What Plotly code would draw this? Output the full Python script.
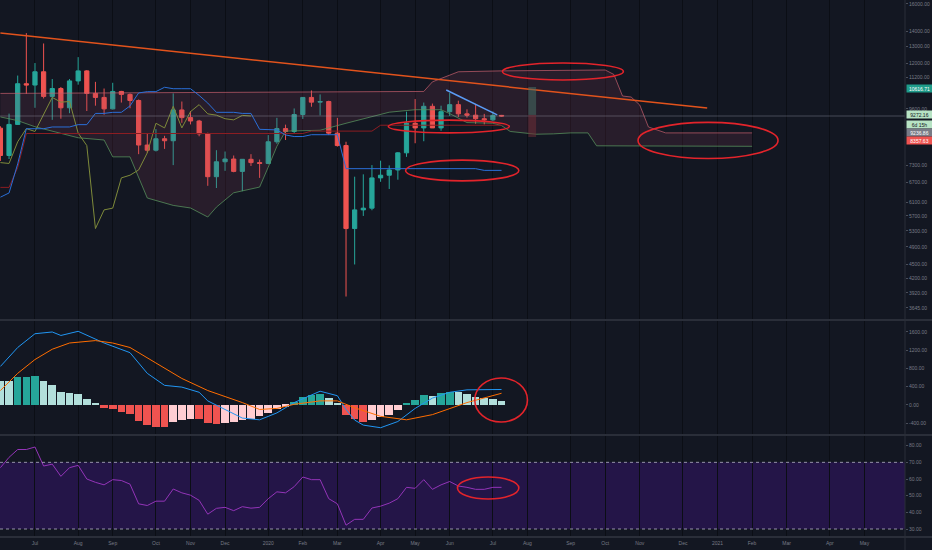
import math

import pandas as pd
import plotly.graph_objects as go

# BTCUSD weekly, Jun 2019 - Jul 2020
start = pd.Timestamp("2019-06-03")

open_ = [8740, 7650, 8900, 10850, 10780, 11500, 10200, 10600, 9650, 11000,
         11550, 10350, 10150, 9600, 10450, 10300, 10000, 8050, 7850, 8300,
         8220, 9550, 9200, 9050, 8500, 6900, 7420, 7520, 7080, 7510,
         7390, 7360, 8180, 8720, 8600, 9340, 10150, 9920, 9950, 8530,
         8030, 5360, 5870, 5920, 6860, 6950, 7130, 7750, 8950, 8750,
         9720, 8750, 9470, 9800, 9370, 9310, 9150, 9100, 9300]
high = [8820, 9380, 11290, 13880, 12000, 13200, 11100, 10680, 11100, 12350,
        11600, 10950, 10600, 10900, 10480, 10350, 10050, 8500, 8700, 8420,
        10350, 9950, 9500, 9100, 8550, 7850, 7800, 7650, 7520, 7700,
        7500, 8450, 9190, 8890, 9620, 10170, 10500, 10300, 9990, 9190,
        8180, 6900, 6980, 7300, 7460, 7290, 7780, 9470, 10070, 9900,
        9850, 9750, 10380, 9990, 9580, 9790, 9370, 9480, 9320]
low = [7450, 7520, 8880, 10330, 9650, 10100, 9100, 9150, 9400, 10800,
       9500, 9750, 9330, 9570, 9900, 9630, 7700, 7750, 7800, 7900,
       7300, 8970, 8900, 8400, 6600, 6530, 7100, 7050, 6430, 7270,
       6860, 7330, 8100, 8250, 8500, 9140, 9700, 9300, 8450, 7990,
       3850, 4500, 5700, 5860, 6730, 6500, 6800, 7600, 8120, 8200,
       8800, 8630, 9280, 9230, 9200, 8930, 8900, 9050, 9250]
close = [7650, 8900, 10850, 10780, 11500, 10200, 10600, 9650, 11000, 11550,
         10350, 10150, 9600, 10450, 10300, 10000, 8050, 7850, 8300, 8220,
         9550, 9200, 9050, 8500, 6900, 7420, 7520, 7080, 7510, 7390,
         7360, 8180, 8720, 8600, 9340, 10150, 9920, 9950, 8530, 8030,
         5360, 5870, 5920, 6860, 6950, 7130, 7750, 8950, 8750, 9720,
         8750, 9470, 9800, 9370, 9310, 9150, 9100, 9300, 9272.16]

# ichimoku lines (conversion / base per candle)
tenkan = [6245, 6375, 7345, 8715, 8715, 8715, 8790, 8790, 8790, 8890,
          8890, 9390, 9390, 9440, 9440, 9740, 10375, 10440, 10440, 10665,
          10590, 10590, 10590, 10250, 9875, 9440, 9440, 9440, 9390, 9390,
          8690, 8690, 8665, 8455, 8390, 8390, 8465, 8465, 8465, 8465,
          7175, 7175, 7175, 7175, 7175, 7175, 7175, 7175, 7175, 7175,
          7175, 7175, 7175, 7175, 7175, 7175, 7115, 7115, 7115]
kijun = [6550, 6550, 7220] + [8515] * 33 + [8615] * 8 + [8865] * 15
lag_shift = 29

# leading spans, by week number from the first candle
span_a_wk = [0, 2, 4, 6, 9, 12, 13, 15, 17, 20, 22, 24, 25, 27, 30, 31, 32, 33,
             37, 40, 45, 48, 51, 52, 53, 54, 57, 58, 59, 62, 64, 66, 68, 69, 87]
span_a = [9230, 9065, 8800, 8615, 8340, 8250, 7600, 7600, 6220, 6000, 5925,
          5670, 5950, 6380, 6560, 7230, 8000, 8615, 8650, 8950, 9445, 9560,
          9560, 9380, 9195, 8980, 8950, 8850, 8600, 8485, 8500, 8540, 8540,
          8020, 8000]
span_b_wk = [0, 49, 50, 53, 58, 70, 71, 72, 73, 74, 75, 77, 87]
span_b = [10350, 10450, 10950, 11500, 11550, 11600, 11350, 10220, 10170,
          9780, 8790, 8540, 8540]

# MACD
macd_hist = [527, 520, 617, 617, 640, 527, 444, 294, 256, 241,
             128, 38, -75, -98, -151, -188, -339, -437, -482, -485,
             -361, -324, -301, -310, -399, -421, -399, -361, -324, -301,
             -248, -173, -83, -38, 68, 181, 226, 241, 151, 53,
             -211, -301, -376, -324, -271, -211, -120, 30, 113, 226,
             203, 256, 294, 279, 241, 181, 151, 128, 90]
macd_wk = [0, 2, 4, 6, 7, 9, 12, 15, 17, 19, 21, 23, 24, 26, 28, 30, 32, 34,
           37, 39, 40, 41, 42, 44, 46, 48, 50, 52, 54, 58]
macd_line = [843, 1257, 1558, 1596, 1520, 1611, 1355, 1144, 692, 429, 391,
             278, 90, -98, -286, -324, -173, 53, 301, 203, -100, -330, -440,
             -497, -361, -75, 151, 278, 331, 339]
signal_wk = [0, 2, 4, 6, 8, 11, 13, 15, 18, 21, 24, 28, 30, 32, 34, 37, 39,
             41, 44, 47, 50, 52, 54, 58]
signal_line = [316, 692, 994, 1219, 1355, 1408, 1355, 1257, 918, 580, 316,
               53, -98, -75, 15, 90, 90, -60, -248, -324, -211, -75, 53, 256]

# RSI
rsi = [66.8, 73.0, 77.7, 77.7, 79.2, 67.8, 68.9, 61.6, 66.8, 68.2,
       60.0, 58.0, 56.5, 59.6, 59.1, 56.9, 45.1, 44.1, 46.7, 46.7,
       54.0, 51.7, 50.3, 47.2, 38.9, 42.4, 43.0, 41.0, 43.4, 42.5,
       43.0, 48.2, 52.3, 51.7, 55.4, 61.2, 59.6, 59.6, 48.2, 45.1,
       32.3, 35.8, 35.8, 42.6, 43.7, 45.5, 48.2, 55.0, 54.4, 59.6,
       53.8, 56.5, 58.5, 55.8, 55.0, 53.8, 53.8, 55.0, 55.0]

# user drawings (week number, price)
orange_wk = [0, 81.8]
orange_px = [13890, 9640]
blue_wk = [51.6, 57.5]
blue_px = [10525, 9320]
box_wk = [61.1, 62.0]
box_px = [8370, 9320, 10680]
rings_main = [(58.1, 72.1, 11050, 12000), (44.9, 58.9, 8540, 9090),
              (46.9, 60.0, 6760, 7480), (73.8, 90.0, 7540, 8990)]
ring_macd = (54.9, 61.0, -372, 590)
ring_rsi = (52.9, 60.0, 48.0, 61.2)

# axis ticks
price_ticks = [3645, 3920, 4200, 4500, 4900, 5300, 5700, 6100, 6700, 7300,
               9600, 11200, 12000, 13000, 14000, 16000]
macd_ticks = [-400, 0, 400, 800, 1200, 1600]
rsi_ticks = [30, 40, 50, 60, 70, 80]
month_ticks = ["2019-06-03", "2019-07-01", "2019-08-05", "2019-09-02",
               "2019-10-07", "2019-11-04", "2019-12-02", "2020-01-06",
               "2020-02-03", "2020-03-02", "2020-04-06", "2020-05-04",
               "2020-06-01", "2020-07-06", "2020-08-03", "2020-09-07",
               "2020-10-05", "2020-11-02", "2020-12-07", "2021-01-04",
               "2021-02-01", "2021-03-01", "2021-04-05", "2021-05-03"]
month_labels = ["Jun", "Jul", "Aug", "Sep", "Oct", "Nov", "Dec", "2020",
                "Feb", "Mar", "Apr", "May", "Jun", "Jul", "Aug", "Sep",
                "Oct", "Nov", "Dec", "2021", "Feb", "Mar", "Apr", "May"]


def wk(n):
    return start + pd.Timedelta(days=7 * n)


weeks = pd.date_range(start, periods=len(close), freq="7D")
BG = "#131722"
GRID = "#0b0e15"
TXT = "#787b86"
SEP = "#2a2e39"
RED = "#e3242b"

fig = go.Figure()

# cloud
fig.add_trace(go.Scatter(x=[wk(w) for w in span_a_wk], y=span_a, mode="lines",
                         line=dict(color="rgba(90,150,95,0.75)", width=1),
                         xaxis="x", yaxis="y", hoverinfo="skip"))
fig.add_trace(go.Scatter(x=[wk(w) for w in span_b_wk], y=span_b, mode="lines",
                         line=dict(color="rgba(200,95,110,0.7)", width=1),
                         fill="tonexty", fillcolor="rgba(150,60,90,0.17)",
                         xaxis="x", yaxis="y", hoverinfo="skip"))
# lagging span
n_lag = len(close) - lag_shift
fig.add_trace(go.Scatter(x=weeks[:n_lag], y=close[lag_shift:], mode="lines",
                         line=dict(color="#7e8a3a", width=1),
                         xaxis="x", yaxis="y", hoverinfo="skip"))
fig.add_trace(go.Scatter(x=weeks, y=kijun, mode="lines",
                         line=dict(color="#8c1d22", width=1),
                         xaxis="x", yaxis="y", hoverinfo="skip"))
fig.add_trace(go.Scatter(x=weeks, y=tenkan, mode="lines",
                         line=dict(color="#2a6fd8", width=1),
                         xaxis="x", yaxis="y", hoverinfo="skip"))

fig.add_trace(go.Candlestick(
    x=weeks, open=open_, high=high, low=low, close=close,
    increasing=dict(line=dict(color="#26a69a", width=1), fillcolor="#26a69a"),
    decreasing=dict(line=dict(color="#ef5350", width=1), fillcolor="#ef5350"),
    whiskerwidth=0, xaxis="x", yaxis="y"))

# trendlines
fig.add_trace(go.Scatter(x=[wk(w) for w in orange_wk], y=orange_px, mode="lines",
                         line=dict(color="#e2531c", width=1.5),
                         xaxis="x", yaxis="y", hoverinfo="skip"))
fig.add_trace(go.Scatter(x=[wk(w) for w in blue_wk], y=blue_px, mode="lines",
                         line=dict(color="#5b9cf6", width=1.5),
                         xaxis="x", yaxis="y", hoverinfo="skip"))

# MACD
hist_colors = []
for i, v in enumerate(macd_hist):
    prev = macd_hist[i - 1] if i > 0 else float("inf")
    if v >= 0:
        hist_colors.append("#26a69a" if v >= prev else "#b2dfdb")
    else:
        hist_colors.append("#ef5350" if v < prev else "#ffcdd2")
fig.add_trace(go.Bar(x=weeks, y=macd_hist, width=7 * 86400000 * 0.88,
                     marker=dict(color=hist_colors, line=dict(width=0)),
                     xaxis="x2", yaxis="y2", hoverinfo="skip"))
fig.add_trace(go.Scatter(x=[wk(w) for w in macd_wk], y=macd_line, mode="lines",
                         line=dict(color="#2196f3", width=1),
                         xaxis="x2", yaxis="y2", hoverinfo="skip"))
fig.add_trace(go.Scatter(x=[wk(w) for w in signal_wk], y=signal_line,
                         mode="lines", line=dict(color="#ff6d00", width=1),
                         xaxis="x2", yaxis="y2", hoverinfo="skip"))

# RSI
fig.add_trace(go.Scatter(x=weeks, y=rsi, mode="lines",
                         line=dict(color="#9334b8", width=1),
                         xaxis="x3", yaxis="y3", hoverinfo="skip"))

shapes = []
# RSI band
shapes.append(dict(type="rect", xref="paper", yref="y3", x0=0, x1=1, y0=30,
                   y1=70, fillcolor="rgba(100,20,210,0.22)", line_width=0,
                   layer="below"))
for lvl in (30, 70):
    shapes.append(dict(type="line", xref="paper", yref="y3", x0=0, x1=1,
                       y0=lvl, y1=lvl,
                       line=dict(color="rgba(200,200,215,0.7)", width=1,
                                 dash="dot")))
# last price line
shapes.append(dict(type="line", xref="paper", yref="y", x0=0, x1=1,
                   y0=close[-1], y1=close[-1],
                   line=dict(color="rgba(170,170,185,0.35)", width=1)))
# projection box
shapes.append(dict(type="rect", xref="x", yref="y", x0=wk(box_wk[0]),
                   x1=wk(box_wk[1]), y0=box_px[1], y1=box_px[2],
                   fillcolor="rgba(70,110,100,0.55)", line_width=0))
shapes.append(dict(type="rect", xref="x", yref="y", x0=wk(box_wk[0]),
                   x1=wk(box_wk[1]), y0=box_px[0], y1=box_px[1],
                   fillcolor="rgba(110,45,55,0.55)", line_width=0))
# hand drawn rings
for w0, w1, p0, p1 in rings_main:
    shapes.append(dict(type="circle", xref="x", yref="y", x0=wk(w0), x1=wk(w1),
                       y0=p0, y1=p1, line=dict(color=RED, width=1.6)))
w0, w1, p0, p1 = ring_macd
shapes.append(dict(type="circle", xref="x2", yref="y2", x0=wk(w0), x1=wk(w1),
                   y0=p0, y1=p1, line=dict(color=RED, width=1.6)))
w0, w1, p0, p1 = ring_rsi
shapes.append(dict(type="circle", xref="x3", yref="y3", x0=wk(w0), x1=wk(w1),
                   y0=p0, y1=p1, line=dict(color=RED, width=1.6)))
# pane separators
H = 537.0
right_edge = 932 / 905
for py in (1 - 320 / H, 1 - 435 / H, 0):
    shapes.append(dict(type="line", xref="paper", yref="paper", x0=0,
                       x1=right_edge, y0=py, y1=py,
                       line=dict(color=SEP, width=2)))
shapes.append(dict(type="line", xref="paper", yref="paper", x0=1, x1=1,
                   y0=-0.03, y1=1, line=dict(color=SEP, width=1)))

# price labels on the right scale
labels = [("10616.71", 10616.71, "#1f9c8a", "#ffffff", 0),
          ("9272.16", 9272.16, "#b7e3c4", "#131722", 2),
          ("6d 15h", 9272.16, "#b7e3c4", "#131722", -8),
          ("9236.86", 9236.86, "#787b86", "#ffffff", -16),
          ("8357.63", 8357.63, "#ef5350", "#ffffff", -3)]
annotations = []
for txt, val, bg, fg, shift in labels:
    annotations.append(dict(text=txt, x=1, xref="paper", xanchor="left",
                            xshift=1, y=math.log10(val), yref="y",
                            yshift=shift, showarrow=False, bgcolor=bg,
                            width=25, height=7, borderpad=0,
                            font=dict(size=5, color=fg,
                                      family="Liberation Sans")))

x_range = [pd.Timestamp("2019-06-02 16:00"), pd.Timestamp("2021-06-04 21:00")]
tick_font = dict(size=5, color=TXT, family="Liberation Sans")
xcommon = dict(type="date", range=x_range, showgrid=True, gridcolor=GRID,
               gridwidth=1, tickvals=month_ticks, zeroline=False,
               showline=False)

fig.update_layout(
    width=932, height=550, autosize=False,
    margin=dict(l=0, r=27, t=0, b=13),
    paper_bgcolor=BG, plot_bgcolor=BG,
    showlegend=False, bargap=0, hovermode=False,
    xaxis=dict(**xcommon, anchor="y", matches="x3", showticklabels=False,
               rangeslider=dict(visible=False)),
    xaxis2=dict(**xcommon, anchor="y2", matches="x3", showticklabels=False),
    xaxis3=dict(**xcommon, anchor="y3", ticktext=month_labels,
                tickfont=tick_font, ticks="", ticklabelstandoff=2),
    yaxis=dict(domain=[1 - 320 / H, 1], type="log", range=[3.5358, 4.2125],
               side="right", tickvals=price_ticks,
               ticktext=[f"{v:.2f}" for v in price_ticks], tickfont=tick_font,
               showgrid=False, zeroline=False, ticks="outside", ticklen=2,
               tickcolor="#4a4e59"),
    yaxis2=dict(domain=[1 - 435 / H, 1 - 320 / H], range=[-656, 1858],
                side="right", tickvals=macd_ticks,
                ticktext=[f"{v:.2f}" for v in macd_ticks], tickfont=tick_font,
                showgrid=False, zeroline=False, ticks="outside", ticklen=2,
                tickcolor="#4a4e59"),
    yaxis3=dict(domain=[0, 1 - 435 / H], range=[25.2, 86.4], side="right",
                tickvals=rsi_ticks, ticktext=[f"{v:.2f}" for v in rsi_ticks],
                tickfont=tick_font, showgrid=False, zeroline=False,
                ticks="outside", ticklen=2, tickcolor="#4a4e59"),
    shapes=shapes, annotations=annotations,
)

# the page body has a default 8px margin; drop it so the chart fills the window
fig.write_html("out.html", config={"displayModeBar": False},
               post_script="document.body.style.margin='0';"
                           "document.body.style.background='#131722';")
